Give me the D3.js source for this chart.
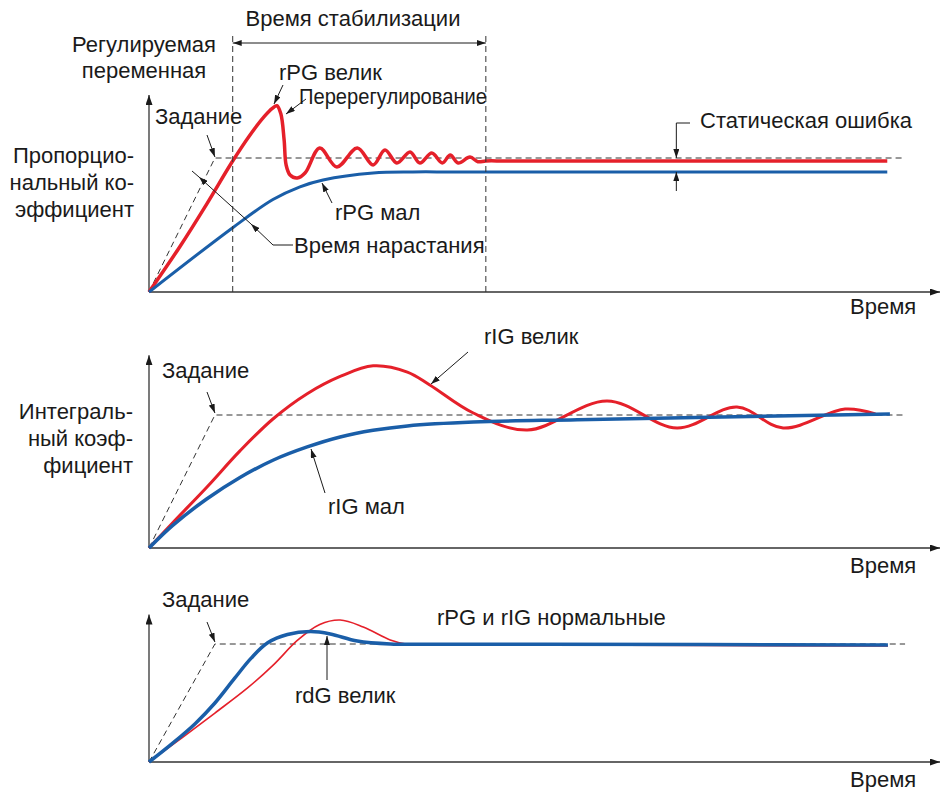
<!DOCTYPE html>
<html>
<head>
<meta charset="utf-8">
<script src="https://cdn.jsdelivr.net/npm/d3@7"></script>
<style>
  body { margin: 0; background: #fff; }
  svg { display: block; }
  text { font-family: "Liberation Sans", Arial, sans-serif; font-size: 22px; fill: #1a1a1a; }
</style>
</head>
<body>
<svg id="chart" width="943" height="794"></svg>
<script>
// time (s), shared by the three panels
const timeEnd = 12;
const rampEnd = 1;          // setpoint ramp reaches 1.0 here
const setpointEnd = 11.47;
const settleStart = 1.27;
const settleEnd = 5.11;
const staticErrorAt = 8;

// panel 1 - proportional gain: [t, value], setpoint = 1
const propHigh = [[0, 0], [0.47, 0.34], [0.88, 0.66], [1.26, 0.97], [1.53, 1.17], [1.75, 1.31],
  [1.87, 1.37], [1.94, 1.39], [2.0, 1.33], [2.05, 1.134], [2.08, 0.948], [2.14, 0.873], [2.25, 0.851],
  [2.37, 0.89], [2.59, 1.075], [2.85, 0.933], [3.16, 1.075], [3.40, 0.948], [3.58, 1.06], [3.76, 0.963],
  [3.96, 1.045], [4.11, 0.963], [4.29, 1.037], [4.45, 0.963], [4.57, 1.022], [4.69, 0.963], [4.87, 1.007],
  [4.99, 0.972], [5.11, 0.978], [5.4, 0.978], [6.5, 0.978], [11.2, 0.978]];
const propLow = [[0, 0], [1.27, 0.48], [1.88, 0.69], [2.29, 0.785], [2.64, 0.836], [3.40, 0.888],
  [4.0, 0.896], [4.6, 0.896], [6, 0.896], [11.2, 0.896]];

// panel 2 - integral gain
const intHigh = [[0, 0], [0.36, 0.19], [0.88, 0.459], [1.38, 0.73], [1.88, 0.97], [2.40, 1.16],
  [2.90, 1.29], [3.40, 1.37], [3.92, 1.323], [4.26, 1.226], [4.92, 1.015], [5.74, 0.887], [6.95, 1.105],
  [8.01, 0.902], [8.92, 1.06], [9.62, 0.902], [10.56, 1.045], [11.02, 1.008]];
const intLow = [[0, 0], [0.36, 0.17], [0.88, 0.37], [1.38, 0.53], [1.88, 0.66], [2.40, 0.76],
  [2.90, 0.835], [3.40, 0.885], [3.92, 0.918], [4.92, 0.947], [6.5, 0.965], [11.24, 1.008]];

// panel 3 - derivative gain
const derivHigh = [[0, 0], [0.36, 0.16], [0.7, 0.325], [1.0, 0.5], [1.3, 0.71], [1.55, 0.88],
  [1.8, 1.01], [2.1, 1.08], [2.45, 1.105], [2.75, 1.085], [3.16, 1.025], [3.66, 1.0], [4.3, 0.998],
  [6, 0.997], [11.21, 0.992]];
const gainsNormal = [[0, 0], [0.5, 0.205], [1.0, 0.415], [1.5, 0.63], [1.9, 0.83], [2.25, 1.03],
  [2.59, 1.165], [2.90, 1.203], [3.25, 1.144], [3.66, 1.034], [3.9, 1.0], [4.5, 0.995], [6, 0.992],
  [11.21, 0.983]];

const red = '#e5202a';
const blue = '#1a5ea8';
const ink = '#1a1a1a';

const svg = d3.select('#chart');
const x = d3.scaleLinear().domain([0, timeEnd]).range([149, 940]);

const defs = svg.append('defs');
const marker = (id, w, h) => defs.append('marker')
  .attr('id', id).attr('markerUnits', 'userSpaceOnUse')
  .attr('markerWidth', w).attr('markerHeight', h)
  .attr('refX', w).attr('refY', h / 2)
  .attr('orient', 'auto-start-reverse')
  .append('path').attr('d', `M0,0L${w},${h / 2}L0,${h}Z`).attr('fill', ink);
marker('axisTip', 10, 7);
marker('tip', 9, 6);

const panels = [
  { base: 292, set: 158, top: 1.47, lines: [{ d: propHigh, c: red, w: 3.5 }, { d: propLow, c: blue, w: 3 }] },
  { base: 548, set: 415, top: 1.45, lines: [{ d: intHigh, c: red, w: 3 }, { d: intLow, c: blue, w: 3.5 }] },
  { base: 762, set: 644, top: 1.25, lines: [{ d: gainsNormal, c: red, w: 1.6 }, { d: derivHigh, c: blue, w: 3.5 }] },
];

panels.forEach((p) => {
  p.y = d3.scaleLinear().domain([0, 1]).range([p.base, p.set]);
  const g = svg.append('g');
  // axes
  g.append('line').attr('x1', x(0)).attr('y1', p.y(0)).attr('x2', x(timeEnd)).attr('y2', p.y(0))
    .attr('stroke', '#333').attr('stroke-width', 1.3).attr('marker-end', 'url(#axisTip)');
  g.append('line').attr('x1', x(0)).attr('y1', p.y(0)).attr('x2', x(0)).attr('y2', p.y(p.top))
    .attr('stroke', '#333').attr('stroke-width', 1.3).attr('marker-end', 'url(#axisTip)');
  // setpoint: ramp then constant
  const sp = [[0, 0], [rampEnd, 1], [setpointEnd, 1]];
  g.append('path')
    .attr('d', d3.line().x(d => x(d[0])).y(d => p.y(d[1]))(sp))
    .attr('fill', 'none').attr('stroke', '#333').attr('stroke-width', 1)
    .attr('stroke-dasharray', '6,4');
  const line = d3.line().x(d => x(d[0])).y(d => p.y(d[1])).curve(d3.curveCatmullRom.alpha(0.5));
  g.selectAll('path.curve').data(p.lines).enter().append('path')
    .attr('class', 'curve')
    .attr('d', d => line(d.d))
    .attr('fill', 'none')
    .attr('stroke', d => d.c)
    .attr('stroke-width', d => d.w)
    .attr('stroke-linejoin', 'round');
});

const [p1, p2, p3] = panels;

// settling time window
[settleStart, settleEnd].forEach((t) => {
  svg.append('line').attr('x1', x(t)).attr('x2', x(t)).attr('y1', 36).attr('y2', p1.y(0))
    .attr('stroke', '#333').attr('stroke-width', 1).attr('stroke-dasharray', '6,4');
});
svg.append('line').attr('x1', x(settleStart)).attr('x2', x(settleEnd)).attr('y1', 43).attr('y2', 43)
  .attr('stroke', ink).attr('stroke-width', 1)
  .attr('marker-start', 'url(#tip)').attr('marker-end', 'url(#tip)');

// leader arrows: points in pixels, arrow at the last point
const leader = (pts, arrow = true) => svg.append('path')
  .attr('d', d3.line()(pts))
  .attr('fill', 'none').attr('stroke', ink).attr('stroke-width', 1)
  .attr('marker-end', arrow ? 'url(#tip)' : null);

const xs = x(staticErrorAt);
leader([[690, 123], [xs, 123], [xs, p1.y(1)]]);
leader([[xs, 191], [xs, p1.y(0.896)]]);
leader([[207, 135], [x(rampEnd), p1.y(1) - 1]]);
leader([[283, 85], [274, 104]]);
leader([[306, 99], [286, 114]]);
leader([[332, 203], [322, 183]]);
// rise time: one line with two heads
leader([[293, 245], [273, 245], [251, 224]]);
leader([[251, 224], [199, 177]]);
leader([[199, 177], [192, 171]], false);

leader([[207, 392], [x(rampEnd), p2.y(1) - 2]]);
leader([[468, 352], [431, 384]]);
leader([[325, 493], [311, 449]]);

leader([[207, 622], [x(rampEnd), p3.y(1) - 2]]);
leader([[327, 680], [327, 636]]);

// texts
const labels = [
  { s: 'Время стабилизации', x: 353, y: 26, a: 'middle' },
  { s: 'Регулируемая', x: 144, y: 52, a: 'middle' },
  { s: 'переменная', x: 144, y: 78, a: 'middle' },
  { s: 'Задание', x: 155, y: 124 },
  { s: 'Пропорцио-', x: 134, y: 163, a: 'end' },
  { s: 'нальный ко-', x: 134, y: 190, a: 'end' },
  { s: 'эффициент', x: 134, y: 217, a: 'end' },
  { s: 'rPG велик', x: 279, y: 80 },
  { s: 'Перерегулирование', x: 299, y: 104, len: 188 },
  { s: 'Статическая ошибка', x: 700, y: 128 },
  { s: 'rPG мал', x: 335, y: 220 },
  { s: 'Время нарастания', x: 294, y: 253 },
  { s: 'Время', x: 850, y: 314 },

  { s: 'rIG велик', x: 484, y: 344 },
  { s: 'Задание', x: 162, y: 378 },
  { s: 'Интеграль-', x: 133, y: 419, a: 'end' },
  { s: 'ный коэф-', x: 133, y: 446, a: 'end' },
  { s: 'фициент', x: 133, y: 473, a: 'end' },
  { s: 'rIG мал', x: 328, y: 514 },
  { s: 'Время', x: 850, y: 573 },

  { s: 'Задание', x: 162, y: 607 },
  { s: 'rPG и rIG нормальные', x: 437, y: 625 },
  { s: 'rdG велик', x: 295, y: 703 },
  { s: 'Время', x: 850, y: 787 },
];
svg.selectAll('text.label').data(labels).enter().append('text')
  .attr('class', 'label')
  .attr('x', d => d.x)
  .attr('y', d => d.y)
  .attr('text-anchor', d => d.a || 'start')
  .attr('textLength', d => d.len || null)
  .attr('lengthAdjust', d => (d.len ? 'spacingAndGlyphs' : null))
  .text(d => d.s);
</script>
</body>
</html>
